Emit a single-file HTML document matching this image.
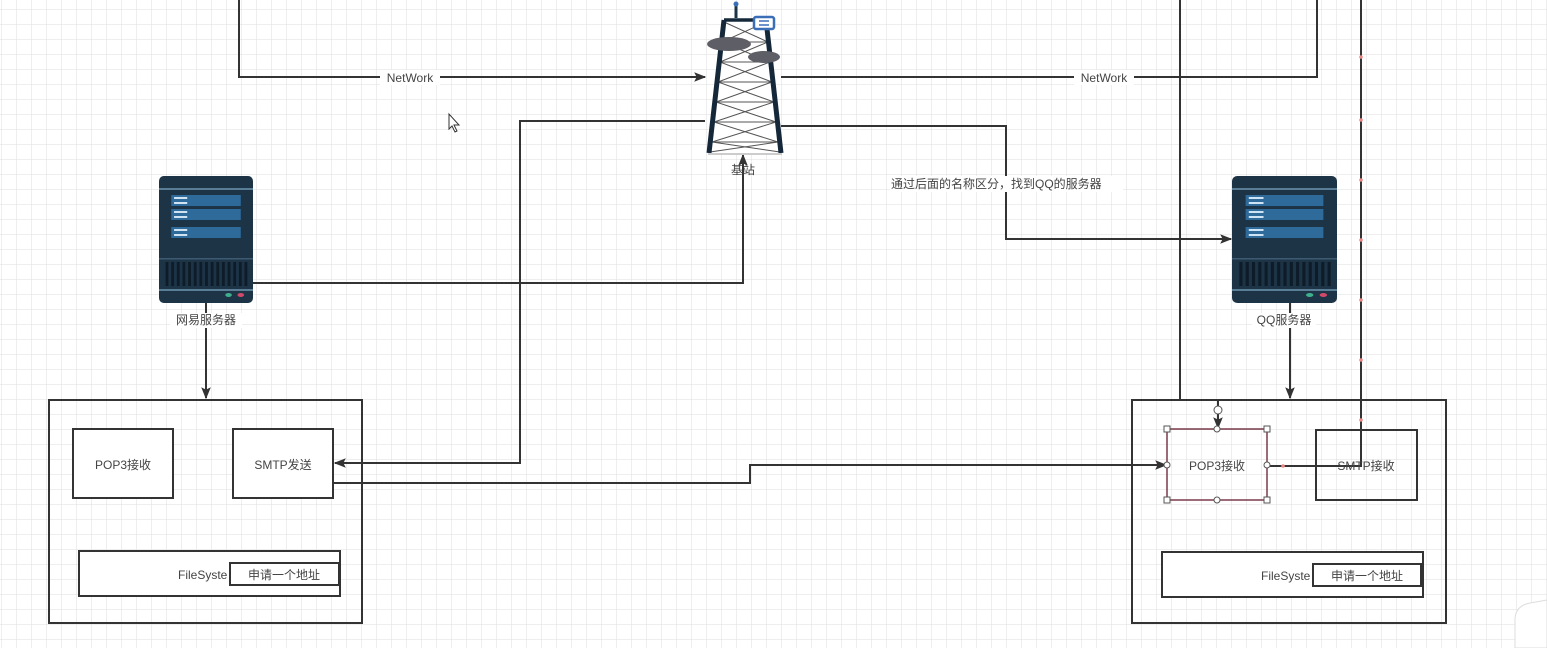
<!DOCTYPE html>
<html><head><meta charset="utf-8"><style>
html,body{margin:0;padding:0;background:#fff;}
svg{display:block;}
text{font-family:"Liberation Sans","Noto Sans CJK SC",sans-serif;fill:#444;}
</style></head><body>
<svg width="1547" height="648" viewBox="0 0 1547 648" xmlns="http://www.w3.org/2000/svg">
<defs>
<pattern id="g" x="2" y="10" width="15" height="15" patternUnits="userSpaceOnUse">
<path d="M15 0V15M0 15H15" fill="none" stroke="#dedede" stroke-width="1"/>
</pattern>
<marker id="a" viewBox="0 0 10 10" refX="9" refY="5" markerWidth="12" markerHeight="12" markerUnits="userSpaceOnUse" orient="auto">
<path d="M0 1L10 5L0 9L2 5Z" fill="#333"/>
</marker>
<g id="srv">
<rect x="0" y="0" width="100" height="127" rx="5" fill="#1d3447"/>
<rect x="0" y="12" width="100" height="2" fill="#5a7d96"/>
<rect x="0" y="113" width="100" height="2" fill="#5a7d96"/>
<rect x="13" y="19" width="74" height="11" fill="#2f6b9a"/>
<rect x="13" y="33" width="74" height="11" fill="#2f6b9a"/>
<rect x="13" y="51" width="74" height="11" fill="#2f6b9a"/>
<rect x="16" y="21" width="14" height="2" fill="#cfe3f2"/>
<rect x="16" y="26" width="14" height="2" fill="#cfe3f2"/>
<rect x="16" y="35" width="14" height="2" fill="#cfe3f2"/>
<rect x="16" y="40" width="14" height="2" fill="#cfe3f2"/>
<rect x="16" y="53" width="14" height="2" fill="#cfe3f2"/>
<rect x="16" y="58" width="14" height="2" fill="#cfe3f2"/>
<rect x="0" y="82" width="100" height="1.5" fill="#3d5a70"/>
<g fill="#0d1c28">
<rect x="7" y="86" width="3" height="24"/><rect x="13" y="86" width="3" height="24"/><rect x="19" y="86" width="3" height="24"/><rect x="25" y="86" width="3" height="24"/><rect x="31" y="86" width="3" height="24"/><rect x="37" y="86" width="3" height="24"/><rect x="43" y="86" width="3" height="24"/><rect x="49" y="86" width="3" height="24"/><rect x="55" y="86" width="3" height="24"/><rect x="61" y="86" width="3" height="24"/><rect x="67" y="86" width="3" height="24"/><rect x="73" y="86" width="3" height="24"/><rect x="79" y="86" width="3" height="24"/><rect x="85" y="86" width="3" height="24"/><rect x="91" y="86" width="3" height="24"/>
</g>
<ellipse cx="74" cy="119" rx="3.5" ry="2" fill="#3fae8c"/>
<ellipse cx="87" cy="119" rx="3.5" ry="2" fill="#d24a6a"/>
</g>
</defs>
<rect width="1547" height="648" fill="url(#g)"/>

<g fill="none" stroke="#333" stroke-width="2">
<path d="M239 0V77H705" marker-end="url(#a)"/>
<path d="M781 77H1317V0"/>
<path d="M1180 0V400"/>
<path d="M1361 0V466H1268"/>
<path d="M705 121H520V463H335" marker-end="url(#a)"/>
<path d="M333 483H750V465H1166" marker-end="url(#a)"/>
<path d="M253 283H743V155" marker-end="url(#a)"/>
<path d="M781 126H1006V239H1231" marker-end="url(#a)"/>
<path d="M206 303V398" marker-end="url(#a)"/>
<path d="M1290 303V398" marker-end="url(#a)"/>
<path d="M1218 400V428" marker-end="url(#a)"/>
</g>
<g fill="#e88" >
<circle cx="1361" cy="57" r="1.8"/><circle cx="1361" cy="120" r="1.8"/><circle cx="1361" cy="180" r="1.8"/><circle cx="1361" cy="240" r="1.8"/><circle cx="1361" cy="300" r="1.8"/><circle cx="1361" cy="360" r="1.8"/><circle cx="1361" cy="420" r="1.8"/><circle cx="1283" cy="466" r="1.8"/>
</g>

<rect x="380" y="70" width="60" height="15" fill="#fff"/>
<text x="410" y="82" font-size="12" text-anchor="middle">NetWork</text>
<rect x="1074" y="70" width="60" height="15" fill="#fff"/>
<text x="1104" y="82" font-size="12" text-anchor="middle">NetWork</text>
<rect x="890" y="176" width="233" height="16" fill="#fff"/>
<text x="891" y="188" font-size="12">通过后面的名称区分，找到QQ的服务器</text>

<g>
<path d="M736 18V4" stroke="#1d3447" stroke-width="3"/>
<circle cx="736" cy="4" r="2.5" fill="#3a6fb8"/>
<path d="M724 20H766L781 153H709Z" fill="#fff"/>
<g stroke="#555" stroke-width="1" fill="none">
<path d="M724 22L768 42L720 62L772 82L716 102L776 122L712 142L780 152"/>
<path d="M766 22L722 42L770 62L718 82L774 102L714 122L778 142L710 152"/>
<path d="M722 42H768M720 62H770M718 82H772M716 102H774M714 122H776M712 142H778"/>
</g>
<path d="M724 20L709 153M766 20L781 153" stroke="#15283a" stroke-width="5" fill="none"/>
<path d="M724 20H766" stroke="#15283a" stroke-width="3.5"/>
<rect x="754" y="17" width="20" height="12" rx="2" fill="#fff" stroke="#3a6fb8" stroke-width="2.5"/>
<path d="M759 21H769M759 25H769" stroke="#3a6fb8" stroke-width="1.5"/>
<ellipse cx="729" cy="44" rx="22" ry="7" fill="#5e5e66"/>
<ellipse cx="764" cy="57" rx="16" ry="6" fill="#5e5e66"/>
<path d="M708 154H782" stroke="#ccc" stroke-width="2"/>
</g>
<text x="743" y="174" font-size="12" text-anchor="middle">基站</text>

<use href="#srv" transform="translate(159 176) scale(0.94 1)"/>
<use href="#srv" transform="translate(1232 176) scale(1.05 1)"/>
<rect x="170" y="313" width="72" height="15" fill="#fff"/>
<text x="206" y="324" font-size="12" text-anchor="middle">网易服务器</text>
<rect x="1252" y="313" width="64" height="15" fill="#fff"/>
<text x="1284" y="324" font-size="12" text-anchor="middle">QQ服务器</text>

<g fill="#fff" stroke="#333" stroke-width="2">
<rect x="49" y="400" width="313" height="223" fill="none"/>
<rect x="73" y="429" width="100" height="69"/>
<rect x="233" y="429" width="100" height="69"/>
<rect x="79" y="551" width="261" height="45"/>
</g>
<text x="123" y="469" font-size="12" text-anchor="middle">POP3接收</text>
<text x="283" y="469" font-size="12" text-anchor="middle">SMTP发送</text>
<text x="178" y="579" font-size="12">FileSyste</text>
<rect x="230" y="563" width="109" height="22" fill="#fff" stroke="#333" stroke-width="2"/>
<text x="284" y="579" font-size="12" text-anchor="middle">申请一个地址</text>

<g fill="none" stroke="#333" stroke-width="2">
<rect x="1132" y="400" width="314" height="223"/>
<rect x="1316" y="430" width="101" height="70"/>
<rect x="1162" y="552" width="261" height="45" fill="#fff"/>
</g>
<path d="M1316 466H1361" stroke="#333" stroke-width="2"/>
<rect x="1167" y="429" width="100" height="71" fill="none" stroke="#7a3b4a" stroke-width="1.5"/>
<text x="1217" y="470" font-size="12" text-anchor="middle">POP3接收</text>
<text x="1366" y="470" font-size="12" text-anchor="middle">SMTP接收</text>
<g fill="#fff" stroke="#555" stroke-width="1">
<rect x="1164" y="426" width="6" height="6"/><rect x="1264" y="426" width="6" height="6"/><rect x="1164" y="497" width="6" height="6"/><rect x="1264" y="497" width="6" height="6"/>
<circle cx="1217" cy="429" r="3"/><circle cx="1217" cy="500" r="3"/><circle cx="1167" cy="465" r="3"/><circle cx="1267" cy="465" r="3"/>
<circle cx="1218" cy="410" r="4"/>
</g>
<text x="1261" y="580" font-size="12">FileSyste</text>
<rect x="1313" y="564" width="108" height="22" fill="#fff" stroke="#333" stroke-width="2"/>
<text x="1367" y="580" font-size="12" text-anchor="middle">申请一个地址</text>

<path d="M449 114V129L452 126L455 132L457 131L454 125H459Z" fill="#fff" stroke="#333" stroke-width="1"/>
<path d="M1515 648V620Q1515 606 1530 603L1547 600V648Z" fill="#fff" stroke="#ddd"/>
</svg>
</body></html>
